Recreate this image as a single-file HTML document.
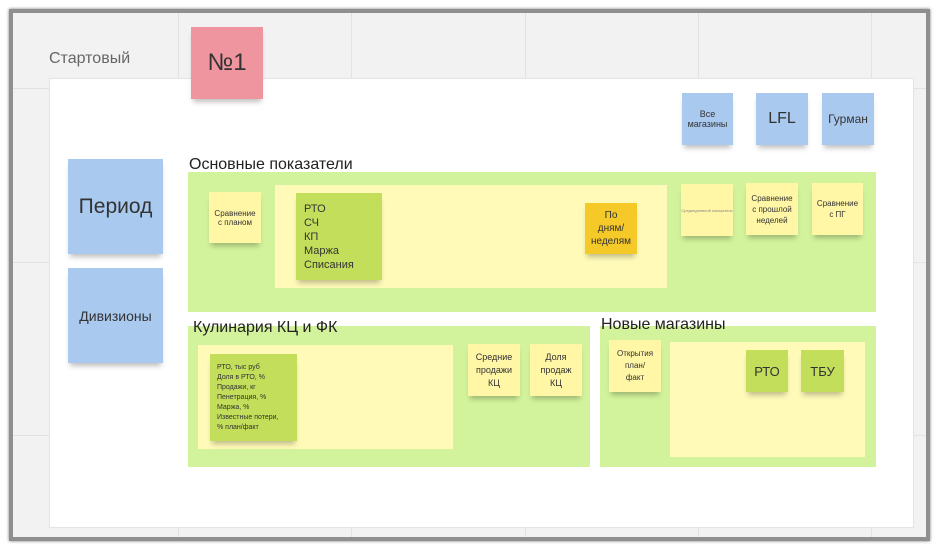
<!DOCTYPE html>
<html><head><meta charset="utf-8"><style>
*{margin:0;padding:0;box-sizing:border-box}
body{width:939px;height:550px;background:#fff;position:relative;overflow:hidden;font-family:"Liberation Sans","DejaVu Sans",sans-serif}
.a{position:absolute}
.frame{left:9px;top:9px;width:921px;height:532px;background:#f2f2f2;border:4px solid #8f8f8f;box-shadow:0 0 3px #777;overflow:hidden}
.vl{position:absolute;top:0;bottom:0;width:1px;background:#e2e2e2}
.hl{position:absolute;left:0;right:0;height:1px;background:#e2e2e2}
.st{position:absolute;display:flex;align-items:center;justify-content:center;text-align:center;color:#333;box-shadow:0 5px 5px -2px rgba(0,0,0,.25)}
.y{background:#fff6a6}
.b{background:#a9c9ef}
.g{background:#d2f39b}
.t{position:absolute;font-size:16px;color:#222}
</style></head><body>
<div class="a frame">
<div class="vl" style="left:165px"></div><div class="vl" style="left:338px"></div><div class="vl" style="left:512px"></div><div class="vl" style="left:685px"></div><div class="vl" style="left:858px"></div>
<div class="hl" style="top:75px"></div><div class="hl" style="top:249px"></div><div class="hl" style="top:422px"></div>
</div>
<div class="a" style="left:49px;top:50px;font-size:16px;color:#666">Стартовый</div>
<div class="a" style="left:49px;top:78px;width:865px;height:450px;background:#fff;border:1px solid #e4e4e4"></div>
<div class="st" style="left:191px;top:27px;width:72px;height:72px;background:#ef95a0;font-size:24px">№1</div>

<div class="st b" style="left:682px;top:93px;width:51px;height:52px;font-size:9px">Все<br>магазины</div>
<div class="st b" style="left:756px;top:93px;width:52px;height:52px;font-size:16px">LFL</div>
<div class="st b" style="left:822px;top:93px;width:52px;height:52px;font-size:12px">Гурман</div>
<div class="st b" style="left:68px;top:159px;width:95px;height:95px;font-size:21px">Период</div>
<div class="st b" style="left:68px;top:268px;width:95px;height:95px;font-size:14px">Дивизионы</div>

<div class="a g" style="left:188px;top:172px;width:688px;height:140px"></div>
<div class="t" style="left:189px;top:156px">Основные показатели</div>
<div class="a" style="left:275px;top:185px;width:392px;height:103px;background:#fffab8"></div>
<div class="st y" style="left:209px;top:192px;width:52px;height:51px;font-size:8px">Сравнение<br>с планом</div>
<div class="st" style="left:296px;top:193px;width:86px;height:87px;background:#c3de5a;font-size:11px;text-align:left;justify-content:flex-start;padding-left:8px;line-height:14px">РТО<br>СЧ<br>КП<br>Маржа<br>Списания</div>
<div class="st" style="left:585px;top:203px;width:52px;height:51px;background:#f4c928;font-size:10px;line-height:13px">По<br>дням/<br>неделям</div>
<div class="st y" style="left:681px;top:184px;width:52px;height:52px;font-size:4px;color:#888">Среднедневной показатель</div>
<div class="st y" style="left:746px;top:183px;width:52px;height:52px;font-size:8px;line-height:11px">Сравнение<br>с прошлой<br>неделей</div>
<div class="st y" style="left:812px;top:183px;width:51px;height:52px;font-size:8px;line-height:11px">Сравнение<br>с ПГ</div>

<div class="a g" style="left:188px;top:326px;width:402px;height:141px"></div>
<div class="t" style="left:193px;top:319px">Кулинария КЦ и ФК</div>
<div class="a" style="left:198px;top:345px;width:255px;height:104px;background:#fffab8"></div>
<div class="st" style="left:210px;top:354px;width:87px;height:87px;background:#c3de5a;font-size:7px;line-height:10px;text-align:left;justify-content:flex-start;padding-left:7px">РТО, тыс руб<br>Доля в РТО, %<br>Продажи, кг<br>Пенетрация, %<br>Маржа, %<br>Известные потери,<br>% план/факт</div>
<div class="st y" style="left:468px;top:344px;width:52px;height:52px;font-size:9px;line-height:13px">Средние<br>продажи<br>КЦ</div>
<div class="st y" style="left:530px;top:344px;width:52px;height:52px;font-size:9px;line-height:13px">Доля<br>продаж<br>КЦ</div>

<div class="a g" style="left:600px;top:326px;width:276px;height:141px"></div>
<div class="t" style="left:601px;top:316px">Новые магазины</div>
<div class="a" style="left:670px;top:342px;width:195px;height:115px;background:#fffab8"></div>
<div class="st y" style="left:609px;top:340px;width:52px;height:52px;font-size:8px;line-height:12px">Открытия<br>план/<br>факт</div>
<div class="st" style="left:746px;top:350px;width:42px;height:42px;background:#c3de5a;font-size:13px">РТО</div>
<div class="st" style="left:801px;top:350px;width:43px;height:42px;background:#c3de5a;font-size:13px">ТБУ</div>
</body></html>
